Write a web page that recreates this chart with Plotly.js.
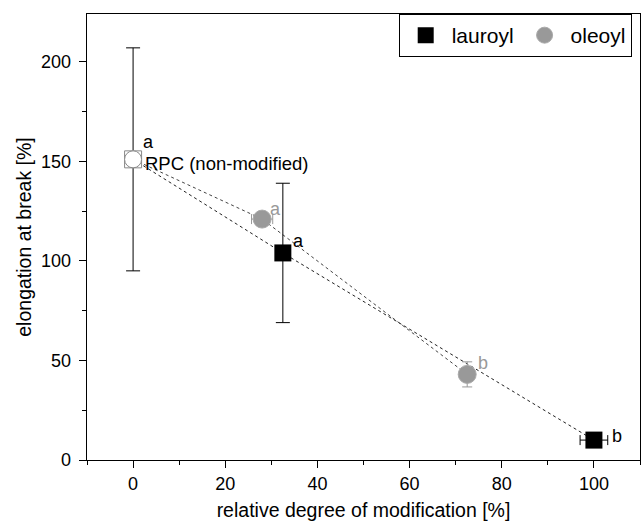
<!DOCTYPE html>
<html>
<head>
<meta charset="utf-8">
<script src="https://cdn.plot.ly/plotly-3.0.1.min.js"></script>
<style>html,body{margin:0;padding:0;background:#fff}#chart{width:641px;height:528px}</style>
</head>
<body>
<div id="chart"></div>
<script>
// Data
const rpcX = [0];
const rpcY = [151];
const rpcErrY = [56];
const rpcLabel = 'RPC (non-modified)';
const rpcLetter = 'a';

const lauroylX = [32.5, 100];
const lauroylY = [104, 10];
const lauroylErrY = [35, 1];
const lauroylErrX = [0, 3];
const lauroylLetters = ['a', 'b'];

const oleoylX = [28, 72.5];
const oleoylY = [121, 43];
const oleoylErrY = [3, 6.3];
const oleoylErrX = [2.3, 0];
const oleoylLetters = ['a', 'b'];

const FONT = 'Liberation Sans, Arial, sans-serif';
const GRAY = '#999999';

const traces = [
  // connecting dotted lines
  {x: rpcX.concat(lauroylX), y: rpcY.concat(lauroylY), mode: 'lines', showlegend: false,
   line: {color: '#222', width: 1, dash: 'dot'}, hoverinfo: 'skip'},
  {x: rpcX.concat(oleoylX), y: rpcY.concat(oleoylY), mode: 'lines', showlegend: false,
   line: {color: '#444', width: 1, dash: 'dot'}, hoverinfo: 'skip'},
  // RPC reference point
  {x: rpcX, y: rpcY, mode: 'markers', showlegend: false,
   error_y: {type: 'data', array: rpcErrY, visible: true, color: '#000', thickness: 1, width: 7},
   marker: {symbol: 'square', size: 17, color: '#fff', line: {color: '#888', width: 1}}},
  {x: rpcX, y: rpcY, mode: 'markers', showlegend: false,
   marker: {symbol: 'circle', size: 17, color: '#fff', line: {color: '#888', width: 1}}},
  // series
  {name: 'lauroyl', x: lauroylX, y: lauroylY, mode: 'markers',
   error_y: {type: 'data', array: lauroylErrY, visible: true, color: '#000', thickness: 1, width: 7},
   error_x: {type: 'data', array: lauroylErrX, visible: true, color: '#000', thickness: 1, width: 5},
   marker: {symbol: 'square', size: 17, color: '#000', line: {color: '#000', width: 0}}},
  {name: 'oleoyl', x: oleoylX, y: oleoylY, mode: 'markers',
   error_y: {type: 'data', array: oleoylErrY, visible: true, color: GRAY, thickness: 1, width: 5},
   error_x: {type: 'data', array: oleoylErrX, visible: true, color: GRAY, thickness: 1, width: 5},
   marker: {symbol: 'circle', size: 18, color: GRAY, line: {color: '#aaa', width: 1}}}
];

const annotations = [];
function letter(x, y, t, color, dx, dy) {
  annotations.push({x: x, y: y, xref: 'x', yref: 'y', text: t, showarrow: false,
    xshift: dx, yshift: dy, font: {family: FONT, size: 18, color: color}});
}
letter(rpcX[0], rpcY[0], rpcLetter, '#000', 15, 17);
annotations.push({x: rpcX[0], y: rpcY[0], xref: 'x', yref: 'y', text: rpcLabel, showarrow: false,
  xanchor: 'left', xshift: 10, yshift: -4, font: {family: FONT, size: 18.5, color: '#000'}});
letter(lauroylX[0], lauroylY[0], lauroylLetters[0], '#000', 16, 12);
letter(lauroylX[1], lauroylY[1], lauroylLetters[1], '#000', 23, 4);
letter(oleoylX[0], oleoylY[0], oleoylLetters[0], GRAY, 13, 10);
letter(oleoylX[1], oleoylY[1], oleoylLetters[1], GRAY, 16, 11);

const layout = {
  width: 641, height: 528,
  margin: {l: 87, r: 1, t: 14, b: 68},
  paper_bgcolor: '#fff', plot_bgcolor: '#fff',
  font: {family: FONT, size: 18, color: '#000'},
  showlegend: true,
  legend: {orientation: 'h', x: 0.985, xanchor: 'right', y: 1.0, yanchor: 'top',
    bordercolor: '#000', borderwidth: 1, bgcolor: '#fff',
    font: {family: FONT, size: 21, color: '#000'}, itemwidth: 42, traceorder: 'normal'},
  xaxis: {range: [-10, 110], tickvals: [0, 20, 40, 60, 80, 100], ticks: 'outside', ticklen: 7,
    tickwidth: 1, tickcolor: '#000', showline: true, linecolor: '#000', linewidth: 1.3, mirror: true,
    showgrid: false, zeroline: false, tickfont: {family: FONT, size: 18},
    minor: {dtick: 10, tick0: 0, ticks: 'outside', ticklen: 4, tickcolor: '#000', showgrid: false},
    title: {text: 'relative degree of modification [%]', font: {family: FONT, size: 19.5}, standoff: 10}},
  yaxis: {range: [0, 224], tickvals: [0, 50, 100, 150, 200], ticks: 'outside', ticklen: 7,
    tickwidth: 1, tickcolor: '#000', showline: true, linecolor: '#000', linewidth: 1.3, mirror: true,
    showgrid: false, zeroline: false, tickfont: {family: FONT, size: 18}, ticklabelstandoff: 4,
    minor: {dtick: 25, tick0: 0, ticks: 'outside', ticklen: 4, tickcolor: '#000', showgrid: false},
    title: {text: 'elongation at break [%]', font: {family: FONT, size: 19.5}, standoff: 4}},
  annotations: annotations
};

Plotly.newPlot('chart', traces, layout, {displayModeBar: false, staticPlot: true});
</script>
</body>
</html>
